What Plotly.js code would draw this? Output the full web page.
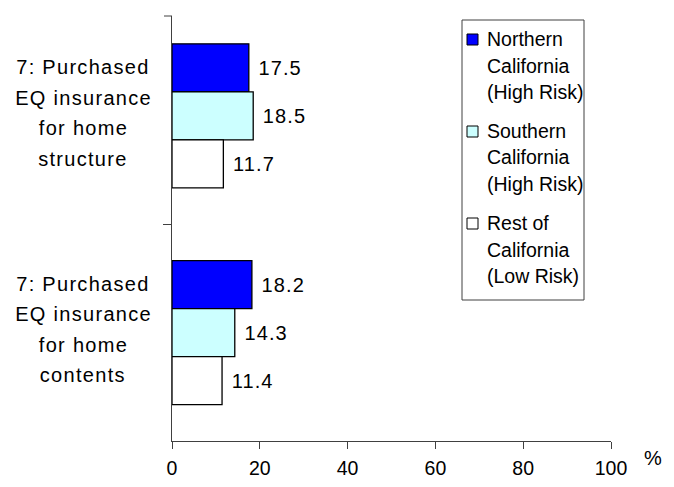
<!DOCTYPE html>
<html>
<head>
<meta charset="utf-8">
<script src="https://cdn.plot.ly/plotly-3.0.1.min.js"></script>
<style>html,body{margin:0;padding:0;background:#fff;}#chart{width:674px;height:487px;}
.bartext{letter-spacing:1.1px;}
</style>
</head>
<body>
<div id="chart"></div>
<script>
// ---- data ----
var categories = ['structure', 'contents'];
var categoryLabelLines = [
  ['7: Purchased', 'EQ insurance', 'for home', 'structure'],
  ['7: Purchased', 'EQ insurance', 'for home', 'contents']
];
var seriesNames = ['Northern California (High Risk)', 'Southern California (High Risk)', 'Rest of California (Low Risk)'];
var legendLines = [
  ['Northern', 'California', '(High Risk)'],
  ['Southern', 'California', '(High Risk)'],
  ['Rest of', 'California', '(Low Risk)']
];
var northern = [17.5, 18.2];
var southern = [18.5, 14.3];
var restOf = [11.7, 11.4];
var xTicks = [0, 20, 40, 60, 80, 100];
var unitLabel = '%';

// ---- style ----
var W = 674, H = 487;
var M = {l: 172, r: 63, t: 16, b: 46};
var FONT = 'Liberation Sans, Arial, sans-serif';
var colors = ['#0000FF', '#CCFFFF', '#FFFFFF'];
var axisColor = '#404040';
var pw = W - M.l - M.r, ph = H - M.t - M.b;
function px2x(px) { return (px - M.l) / pw; }
function px2y(py) { return (H - M.b - py) / ph; }

var values = [northern, southern, restOf];
var traces = values.map(function (v, i) {
  return {
    type: 'bar', orientation: 'h',
    name: seriesNames[i],
    y: categories, x: v,
    marker: {color: colors[i], line: {color: '#000', width: 1.3}},
    text: v.map(function (d) { return d.toFixed(1); }),
    texttemplate: '\u00a0%{text}',
    textposition: 'outside',
    constraintext: 'none',
    cliponaxis: false,
    textfont: {family: FONT, size: 20, color: '#000'},
    hoverinfo: 'x+name'
  };
});

var annotations = [];
var shapes = [];
// category labels (multi-line, centered)
categories.forEach(function (c, ci) {
  var lines = categoryLabelLines[ci];
  lines.forEach(function (ln, li) {
    annotations.push({
      xref: 'paper', yref: 'y', x: px2x(83), y: c,
      xanchor: 'center', yanchor: 'middle',
      yshift: ((lines.length - 1) / 2 - li) * 30.5 + 3,
      text: ln, showarrow: false,
      font: {family: FONT, size: 20, color: '#000'}
    });
  });
});
var nCatAnn = annotations.length;
// letter spacing for the category labels
(function () {
  var sel = [];
  for (var k = 0; k < nCatAnn; k++) sel.push('.annotation[data-index="' + k + '"] text');
  var st = document.createElement('style');
  st.textContent = sel.join(',') + '{letter-spacing:1.3px;}';
  document.head.appendChild(st);
})();
// unit label
annotations.push({
  xref: 'paper', yref: 'paper', x: px2x(653), y: px2y(458),
  xanchor: 'center', yanchor: 'middle', text: unitLabel, showarrow: false,
  font: {family: FONT, size: 20, color: '#000'}
});
// top boundary tick of the category axis
shapes.push({type: 'line', xref: 'paper', yref: 'paper',
  x0: px2x(164), x1: 0, y0: 1, y1: 1, line: {color: axisColor, width: 1}});
// legend box
shapes.push({type: 'rect', xref: 'paper', yref: 'paper',
  x0: px2x(462), x1: px2x(584), y0: px2y(300), y1: px2y(20),
  line: {color: axisColor, width: 1}, fillcolor: 'rgba(0,0,0,0)'});
legendLines.forEach(function (lines, i) {
  var top = 39 + i * 92;
  shapes.push({type: 'rect', xref: 'paper', yref: 'paper',
    x0: px2x(467), x1: px2x(478), y0: px2y(top + 6), y1: px2y(top - 5),
    line: {color: '#000', width: 1}, fillcolor: colors[i]});
  lines.forEach(function (ln, li) {
    annotations.push({
      xref: 'paper', yref: 'paper', x: px2x(485), y: px2y(top + li * 26.5),
      xanchor: 'left', yanchor: 'middle', text: ln, showarrow: false,
      font: {family: FONT, size: 19.5, color: '#000'}
    });
  });
});

var layout = {
  width: W, height: H,
  margin: M,
  paper_bgcolor: '#fff', plot_bgcolor: '#fff',
  showlegend: false,
  barmode: 'group', bargap: 0.335, bargroupgap: 0,
  font: {family: FONT, size: 19, color: '#000'},
  xaxis: {
    range: [0, 100], tickvals: xTicks, ticktext: xTicks.map(String),
    showgrid: false, zeroline: false,
    showline: true, linecolor: axisColor, linewidth: 1,
    ticks: 'outside', ticklen: 7, tickcolor: axisColor, tickwidth: 1,
    tickfont: {family: FONT, size: 19.5, color: '#000'},
    ticklabelstandoff: 3,
    fixedrange: true
  },
  yaxis: {
    type: 'category', categoryorder: 'array', categoryarray: categories,
    range: [1.5, -0.461],
    showgrid: false, zeroline: false,
    showline: true, linecolor: axisColor, linewidth: 1,
    ticks: 'outside', ticklen: 8, tickcolor: axisColor, tickwidth: 1,
    tickson: 'boundaries',
    showticklabels: false,
    fixedrange: true
  },
  annotations: annotations,
  shapes: shapes
};

Plotly.newPlot('chart', traces, layout, {displayModeBar: false, staticPlot: true});
</script>
</body>
</html>
